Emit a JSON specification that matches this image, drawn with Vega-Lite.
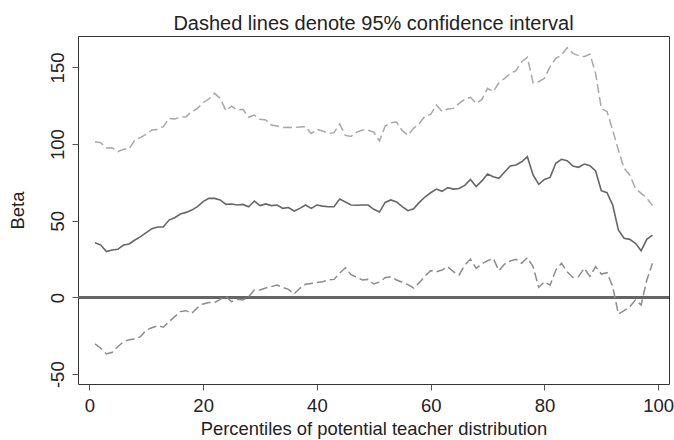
{
  "$schema": "https://vega.github.io/schema/vega-lite/v6.json",
  "width": 591,
  "height": 348,
  "autosize": {"type": "none"},
  "padding": {"left": 78, "top": 36, "right": 5, "bottom": 56},
  "background": "white",
  "title": {"text": "Dashed lines denote 95% confidence interval", "font": "Liberation Sans", "fontSize": 20, "fontWeight": "normal", "color": "#222", "anchor": "middle", "offset": 2},
  "config": {
    "view": {"stroke": "#333", "strokeWidth": 1},
    "axis": {"font": "Liberation Sans", "labelFont": "Liberation Sans", "titleFont": "Liberation Sans", "labelFontSize": 18.5, "titleFontSize": 18.4, "titleFontWeight": "normal", "labelColor": "#222", "titleColor": "#222", "tickColor": "#555", "tickSize": 6, "grid": false, "domain": false}
  },
  "data": {"values": [
    {"p":1,"beta":35.7,"upper":101.6,"lower":-30.3},
    {"p":2,"beta":34.2,"upper":100.9,"lower":-33.1},
    {"p":3,"beta":29.9,"upper":97.5,"lower":-36.8},
    {"p":4,"beta":31,"upper":97.7,"lower":-35.7},
    {"p":5,"beta":31.4,"upper":95.1,"lower":-32.1},
    {"p":6,"beta":34.2,"upper":96.6,"lower":-28.8},
    {"p":7,"beta":34.9,"upper":97,"lower":-27.5},
    {"p":8,"beta":37.5,"upper":102.7,"lower":-27.1},
    {"p":9,"beta":39.7,"upper":104.4,"lower":-25.5},
    {"p":10,"beta":42.3,"upper":106.4,"lower":-21.2},
    {"p":11,"beta":44.9,"upper":109.2,"lower":-19.7},
    {"p":12,"beta":46,"upper":109.6,"lower":-18.4},
    {"p":13,"beta":46,"upper":111.4,"lower":-19.4},
    {"p":14,"beta":50.5,"upper":116.8,"lower":-15.8},
    {"p":15,"beta":52,"upper":116.4,"lower":-12.5},
    {"p":16,"beta":54.4,"upper":117.5,"lower":-9.2},
    {"p":17,"beta":55.5,"upper":117.9,"lower":-8.6},
    {"p":18,"beta":57,"upper":121.2,"lower":-10.3},
    {"p":19,"beta":59.2,"upper":123.3,"lower":-6.6},
    {"p":20,"beta":62.5,"upper":127,"lower":-4.2},
    {"p":21,"beta":64.6,"upper":129.4,"lower":-3.2},
    {"p":22,"beta":64.6,"upper":133.1,"lower":-3.4},
    {"p":23,"beta":63.6,"upper":129.8,"lower":-1.2},
    {"p":24,"beta":60.7,"upper":121.8,"lower":0.5},
    {"p":25,"beta":61,"upper":124.8,"lower":-2.7},
    {"p":26,"beta":60.3,"upper":122.2,"lower":-1.2},
    {"p":27,"beta":60.7,"upper":122.7,"lower":-1.6},
    {"p":28,"beta":59.2,"upper":117.5,"lower":0.5},
    {"p":29,"beta":62.9,"upper":119,"lower":4.9},
    {"p":30,"beta":59.9,"upper":116.2,"lower":4.9},
    {"p":31,"beta":61,"upper":115.7,"lower":6.2},
    {"p":32,"beta":59.9,"upper":112.5,"lower":7.1},
    {"p":33,"beta":60.3,"upper":111.8,"lower":8.1},
    {"p":34,"beta":58.1,"upper":110.9,"lower":6.6},
    {"p":35,"beta":58.7,"upper":111,"lower":5.3},
    {"p":36,"beta":56.4,"upper":110.8,"lower":2.3},
    {"p":37,"beta":58.1,"upper":111.2,"lower":6},
    {"p":38,"beta":60.3,"upper":111.4,"lower":8.6},
    {"p":39,"beta":58.1,"upper":107,"lower":9.2},
    {"p":40,"beta":60.3,"upper":109.6,"lower":9.7},
    {"p":41,"beta":59.6,"upper":108.6,"lower":10.3},
    {"p":42,"beta":59.2,"upper":107,"lower":11.4},
    {"p":43,"beta":59.2,"upper":107.5,"lower":11.8},
    {"p":44,"beta":64.2,"upper":113.1,"lower":15.8},
    {"p":45,"beta":62.3,"upper":105.7,"lower":19.4},
    {"p":46,"beta":60.3,"upper":105,"lower":14.9},
    {"p":47,"beta":60.1,"upper":107.8,"lower":13.1},
    {"p":48,"beta":60.3,"upper":109.2,"lower":11.4},
    {"p":49,"beta":60.3,"upper":109.1,"lower":11.8},
    {"p":50,"beta":57.5,"upper":107.8,"lower":8.8},
    {"p":51,"beta":55.7,"upper":102.1,"lower":10.1},
    {"p":52,"beta":62,"upper":111.8,"lower":12.9},
    {"p":53,"beta":63.6,"upper":114,"lower":13.6},
    {"p":54,"beta":62.3,"upper":114.4,"lower":11.4},
    {"p":55,"beta":59.2,"upper":108.8,"lower":9.9},
    {"p":56,"beta":56.6,"upper":105.9,"lower":8.4},
    {"p":57,"beta":57.9,"upper":110.3,"lower":6.2},
    {"p":58,"beta":62,"upper":113.5,"lower":9.7},
    {"p":59,"beta":65.5,"upper":118.3,"lower":14},
    {"p":60,"beta":68.3,"upper":119.4,"lower":17.5},
    {"p":61,"beta":70.7,"upper":125.5,"lower":16.8},
    {"p":62,"beta":69.2,"upper":121.4,"lower":17.9},
    {"p":63,"beta":71.6,"upper":122.9,"lower":20.1},
    {"p":64,"beta":70.7,"upper":123.3,"lower":16.8},
    {"p":65,"beta":71.1,"upper":126.6,"lower":14.7},
    {"p":66,"beta":73.1,"upper":129.2,"lower":21.2},
    {"p":67,"beta":77,"upper":130.5,"lower":24.9},
    {"p":68,"beta":72.3,"upper":126.6,"lower":19},
    {"p":69,"beta":76,"upper":129,"lower":22},
    {"p":70,"beta":80.5,"upper":136.4,"lower":24},
    {"p":71,"beta":78.8,"upper":134.2,"lower":25.5},
    {"p":72,"beta":77.7,"upper":140,"lower":17.5},
    {"p":73,"beta":81.8,"upper":142.9,"lower":21.8},
    {"p":74,"beta":85.7,"upper":146.1,"lower":23.8},
    {"p":75,"beta":86.4,"upper":147.9,"lower":24.9},
    {"p":76,"beta":88.5,"upper":153.7,"lower":22.3},
    {"p":77,"beta":91.8,"upper":156.6,"lower":26},
    {"p":78,"beta":79.9,"upper":140,"lower":20.1},
    {"p":79,"beta":73.8,"upper":140.7,"lower":6.6},
    {"p":80,"beta":77,"upper":142.9,"lower":10.3},
    {"p":81,"beta":78.3,"upper":150.5,"lower":8.1},
    {"p":82,"beta":87.5,"upper":155.9,"lower":17.9},
    {"p":83,"beta":90.1,"upper":158.1,"lower":22.3},
    {"p":84,"beta":89.2,"upper":162.9,"lower":16.8},
    {"p":85,"beta":85.7,"upper":159.2,"lower":13.1},
    {"p":86,"beta":84.9,"upper":157.7,"lower":13.6},
    {"p":87,"beta":87,"upper":157,"lower":19},
    {"p":88,"beta":85.9,"upper":158.7,"lower":13.8},
    {"p":89,"beta":82.5,"upper":146.1,"lower":20.1},
    {"p":90,"beta":69.6,"upper":123.3,"lower":15.3},
    {"p":91,"beta":68.3,"upper":121.2,"lower":16.2},
    {"p":92,"beta":60.3,"upper":109.2,"lower":7.1},
    {"p":93,"beta":44,"upper":96.1,"lower":-10.8},
    {"p":94,"beta":38.6,"upper":84.2,"lower":-8.6},
    {"p":95,"beta":37.9,"upper":79.9,"lower":-6},
    {"p":96,"beta":35.3,"upper":71.2,"lower":-1.6},
    {"p":97,"beta":30.5,"upper":67.9,"lower":-4.9},
    {"p":98,"beta":37.9,"upper":64.7,"lower":11.4},
    {"p":99,"beta":40.7,"upper":59.9,"lower":22.3}
  ]},
  "encoding": {
    "x": {"field": "p", "type": "quantitative", "scale": {"domain": [-2, 101.9], "nice": false, "zero": false},
      "axis": {"values": [0, 20, 40, 60, 80, 100], "title": "Percentiles of potential teacher distribution", "labelPadding": 6, "titlePadding": 5}}
  },
  "layer": [
    {"mark": {"type": "rule", "color": "#666", "strokeWidth": 1.4},
     "encoding": {"y": {"datum": 0, "type": "quantitative", "scale": {"domain": [-56.4, 170.5], "nice": false, "zero": false}}, "x": null}},
    {"mark": {"type": "line", "color": "#a8a8a8", "strokeWidth": 1.5, "strokeDash": [9, 4]},
     "encoding": {"y": {"field": "upper", "type": "quantitative"}}},
    {"mark": {"type": "line", "color": "#8c8c8c", "strokeWidth": 1.5, "strokeDash": [9, 4]},
     "encoding": {"y": {"field": "lower", "type": "quantitative"}}},
    {"mark": {"type": "line", "color": "#666", "strokeWidth": 1.6},
     "encoding": {"y": {"field": "beta", "type": "quantitative", "scale": {"domain": [-56.4, 170.5], "nice": false, "zero": false},
       "axis": {"values": [-50, 0, 50, 100, 150], "labelExpr": "datum.value < 0 ? '-' + abs(datum.value) : '' + datum.value", "title": "Beta", "labelAngle": -90, "labelAlign": "center", "labelBaseline": "bottom", "labelPadding": 5, "titlePadding": 21}}}}
  ]
}
